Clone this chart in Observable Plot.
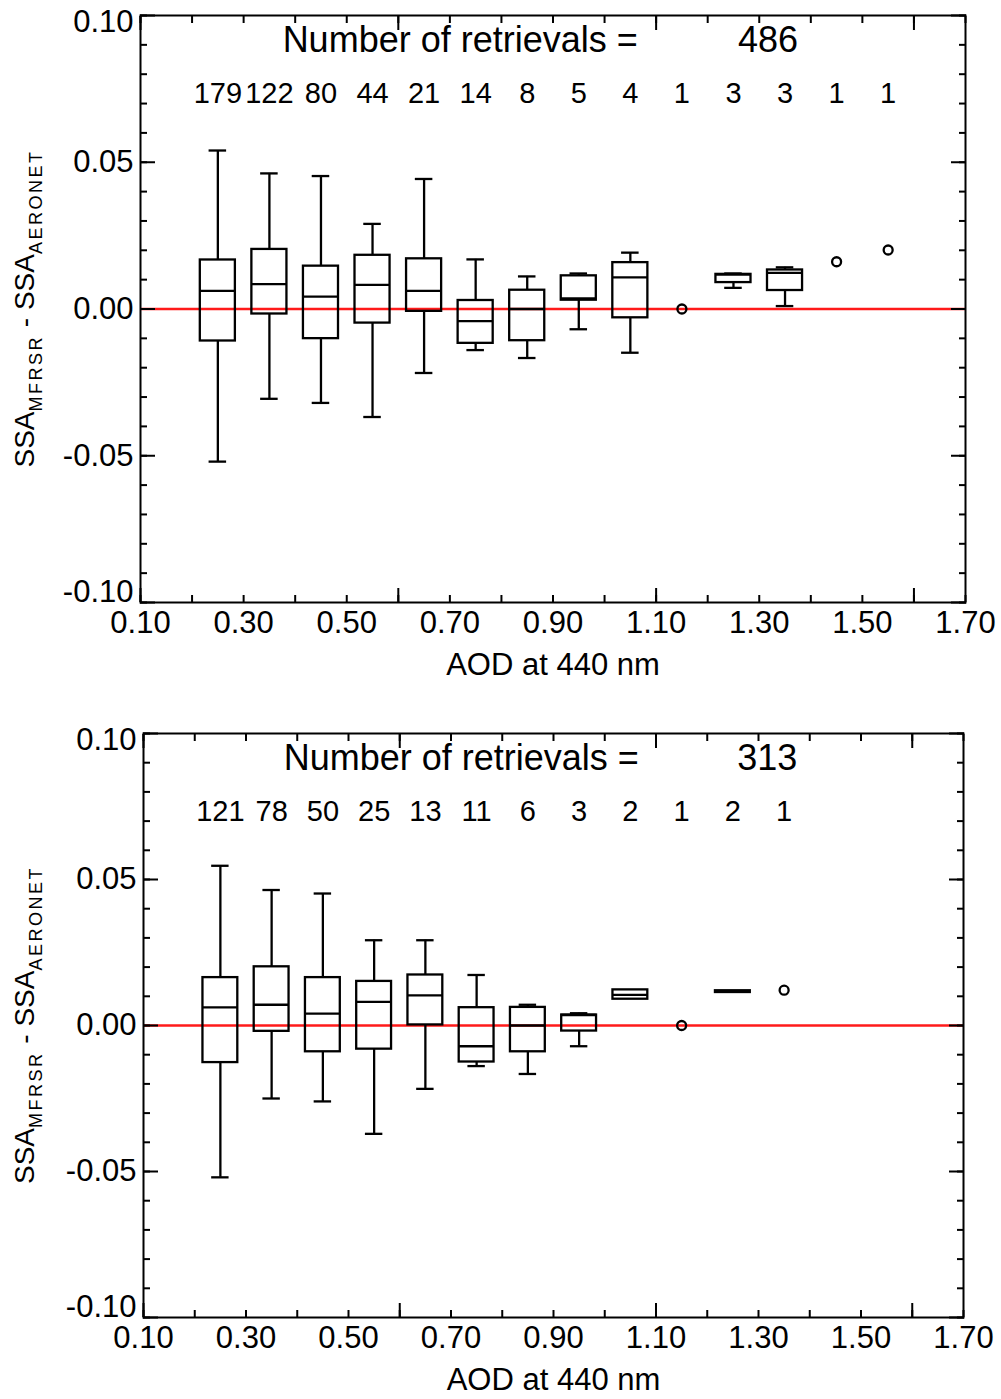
<!DOCTYPE html>
<html>
<head>
<meta charset="utf-8">
<script src="https://cdn.jsdelivr.net/npm/d3@7"></script>
<script src="https://cdn.jsdelivr.net/npm/@observablehq/plot@0.6"></script>
<style>
  body { margin: 0; background: #fff; }
  #chart svg { display: block; }
</style>
</head>
<body>
<div id="chart"></div>
<script>
// ---------- Data ----------
// Top panel
const topAod     = [0.25, 0.35, 0.45, 0.55, 0.65, 0.75, 0.85, 0.95, 1.05, 1.15, 1.25, 1.35, 1.45, 1.55];
const topCounts  = [179, 122, 80, 44, 21, 14, 8, 5, 4, 1, 3, 3, 1, 1];
const topMin     = [-0.052, -0.0306, -0.032, -0.0368, -0.0218, -0.014, -0.0167, -0.0069, -0.0149, 0.0, 0.0072, 0.001, 0.0161, 0.0201];
const topQ1      = [-0.0109, -0.0017, -0.0101, -0.0048, -0.0008, -0.0117, -0.0108, 0.003, -0.003, 0.0, 0.009, 0.0063, 0.0161, 0.0201];
const topMedian  = [0.0062, 0.0085, 0.0042, 0.0082, 0.0062, -0.0041, 0.0, 0.0036, 0.0108, 0.0, 0.0117, 0.0123, 0.0161, 0.0201];
const topQ3      = [0.0167, 0.0203, 0.0146, 0.0183, 0.0171, 0.0029, 0.0064, 0.0113, 0.0158, 0.0, 0.0118, 0.0133, 0.0161, 0.0201];
const topMax     = [0.054, 0.0462, 0.0453, 0.029, 0.0443, 0.0169, 0.0111, 0.0121, 0.0192, 0.0, 0.0121, 0.0142, 0.0161, 0.0201];
const topTotal   = "486";

// Bottom panel
const botAod     = [0.25, 0.35, 0.45, 0.55, 0.65, 0.75, 0.85, 0.95, 1.05, 1.15, 1.25, 1.35];
const botCounts  = [121, 78, 50, 25, 13, 11, 6, 3, 2, 1, 2, 1];
const botMin     = [-0.052, -0.025, -0.026, -0.0371, -0.0217, -0.0139, -0.0166, -0.0071, 0.009, 0.0, 0.0113, 0.0121];
const botQ1      = [-0.0127, -0.002, -0.009, -0.0081, 0.0002, -0.0125, -0.009, -0.0019, 0.009, 0.0, 0.0113, 0.0121];
const botMedian  = [0.0062, 0.0071, 0.0041, 0.0081, 0.0103, -0.0071, 0.0, 0.0036, 0.0105, 0.0, 0.0116, 0.0121];
const botQ3      = [0.0164, 0.0201, 0.0164, 0.0151, 0.0173, 0.0061, 0.0062, 0.0036, 0.0122, 0.0, 0.0119, 0.0121];
const botMax     = [0.0547, 0.0464, 0.0452, 0.0292, 0.0292, 0.0173, 0.0071, 0.0042, 0.0122, 0.0, 0.0119, 0.0121];
const botTotal   = "313";

// Axes / ticks / labels
const xDomain       = [0.1, 1.7];
const yDomain       = [-0.1, 0.1];
const xTickLabels   = [0.10, 0.30, 0.50, 0.70, 0.90, 1.10, 1.30, 1.50, 1.70];
const xMinorTicks   = [0.1, 0.2, 0.3, 0.4, 0.5, 0.6, 0.7, 0.8, 0.9, 1.0, 1.1, 1.2, 1.3, 1.4, 1.5, 1.6, 1.7];
const xMajorTicks   = [0.1, 0.6, 1.1, 1.6];
const yTickLabels   = [-0.10, -0.05, 0.00, 0.05, 0.10];
const yMinorTicks   = [-0.1, -0.09, -0.08, -0.07, -0.06, -0.05, -0.04, -0.03, -0.02, -0.01, 0,
                       0.01, 0.02, 0.03, 0.04, 0.05, 0.06, 0.07, 0.08, 0.09, 0.1];
const yMajorTicks   = [-0.1, -0.05, 0, 0.05, 0.1];
const titleLabel    = "Number of retrievals =";
const titleX        = [0.72, 1.317];
const xAxisTitle    = "AOD at 440 nm";

// ---------- Drawing ----------
const FONT = "'Liberation Sans', Arial, Helvetica, sans-serif";
const fmt = d => d.toFixed(2);
const boxHalf = 0.034;
const capHalf = 0.017;
const LW = 2.3;

function panel({aod, counts, mins, q1s, meds, q3s, maxs, total, height, margin}) {
  const rows = aod.map((x, i) => ({x, n: counts[i], min: mins[i], q1: q1s[i], median: meds[i], q3: q3s[i], max: maxs[i]}));
  const boxes = rows.filter(d => d.n > 1);
  const singles = rows.filter(d => d.n === 1);
  const lowCaps = boxes.filter(d => d.min < d.q1);
  const highCaps = boxes.filter(d => d.max > d.q3);
  const titles = [{x: titleX[0], label: titleLabel}, {x: titleX[1], label: total}];

  const tickStyle = {stroke: "black", strokeWidth: 2, fill: "none", label: null};
  const labStyle = {tickSize: 0, tickFormat: fmt, fontSize: 31, label: null, fill: "black"};

  const svg = Plot.plot({
    width: 1001,
    height,
    marginTop: margin.top, marginRight: margin.right, marginBottom: margin.bottom, marginLeft: margin.left,
    style: {fontFamily: FONT, color: "black", background: "white"},
    x: {domain: xDomain, axis: null},
    y: {domain: yDomain, axis: null},
    marks: [
      Plot.ruleY([0], {stroke: "#ff1a1a", strokeWidth: 2.6}),
      // ticks (inward)
      Plot.axisX(xMinorTicks, {anchor: "bottom", tickSize: -7, ...tickStyle}),
      Plot.axisX(xMajorTicks, {anchor: "bottom", tickSize: -14, ...tickStyle}),
      Plot.axisX(xMinorTicks, {anchor: "top", tickSize: -7, ...tickStyle}),
      Plot.axisX(xMajorTicks, {anchor: "top", tickSize: -14, ...tickStyle}),
      Plot.axisY(yMinorTicks, {anchor: "left", tickSize: -7, ...tickStyle}),
      Plot.axisY(yMajorTicks, {anchor: "left", tickSize: -15, ...tickStyle}),
      Plot.axisY(yMinorTicks, {anchor: "right", tickSize: -7, ...tickStyle}),
      Plot.axisY(yMajorTicks, {anchor: "right", tickSize: -15, ...tickStyle}),
      // tick labels
      Plot.axisX(xTickLabels, {anchor: "bottom", tickPadding: 8, ...labStyle}),
      Plot.axisY(yTickLabels.slice(1, 4), {anchor: "left", tickPadding: 7, ...labStyle}),
      Plot.axisY(yTickLabels.slice(4), {anchor: "left", tickPadding: 7, dy: 7, ...labStyle}),
      Plot.axisY(yTickLabels.slice(0, 1), {anchor: "left", tickPadding: 7, dy: -10, ...labStyle}),
      // whiskers
      Plot.ruleX(boxes, {x: "x", y1: "min", y2: "q1", stroke: "black", strokeWidth: LW}),
      Plot.ruleX(boxes, {x: "x", y1: "q3", y2: "max", stroke: "black", strokeWidth: LW}),
      Plot.ruleY(lowCaps, {y: "min", x1: d => d.x - capHalf, x2: d => d.x + capHalf, stroke: "black", strokeWidth: LW}),
      Plot.ruleY(highCaps, {y: "max", x1: d => d.x - capHalf, x2: d => d.x + capHalf, stroke: "black", strokeWidth: LW}),
      // boxes
      Plot.rect(boxes, {x1: d => d.x - boxHalf, x2: d => d.x + boxHalf, y1: "q1", y2: "q3", fill: "white", fillOpacity: 0, stroke: "black", strokeWidth: LW}),
      Plot.ruleY(boxes, {y: "median", x1: d => d.x - boxHalf, x2: d => d.x + boxHalf, stroke: "black", strokeWidth: LW}),
      // single retrievals
      Plot.dot(singles, {x: "x", y: "median", r: 4.5, stroke: "black", strokeWidth: LW, fill: "none"}),
      // counts
      Plot.text(rows, {x: "x", text: d => String(d.n), frameAnchor: "top", lineAnchor: "middle", dy: 78, fontSize: 29, fill: "black"}),
      // title line
      Plot.text(titles, {x: "x", text: "label", frameAnchor: "top", lineAnchor: "middle", dy: 25, fontSize: 36, fill: "black"}),
      // x axis title
      Plot.text([xAxisTitle], {frameAnchor: "bottom", lineAnchor: "middle", dy: 63, fontSize: 31, fill: "black"}),
      Plot.frame({stroke: "black", strokeWidth: 2})
    ]
  });

  // y-axis title with subscripts
  const cy = (margin.top + (height - margin.bottom)) / 2;
  const t = d3.select(svg).append("text")
    .attr("transform", `translate(34,${cy}) rotate(-90)`)
    .attr("text-anchor", "middle")
    .attr("fill", "black")
    .style("font-family", FONT)
    .style("white-space", "pre");
  t.append("tspan").attr("font-size", 28).text("SSA");
  t.append("tspan").attr("font-size", 18).attr("dy", 8).attr("letter-spacing", 2.5).text("MFRSR");
  t.append("tspan").attr("font-size", 28).attr("dy", -8).text(" - SSA");
  t.append("tspan").attr("font-size", 18).attr("dy", 8).attr("letter-spacing", 2.5).text("AERONET");
  return svg;
}

const chart = document.getElementById("chart");
chart.appendChild(panel({
  aod: topAod, counts: topCounts, mins: topMin, q1s: topQ1, meds: topMedian, q3s: topQ3, maxs: topMax,
  total: topTotal, height: 700, margin: {top: 15, right: 36, bottom: 98, left: 140}
}));
chart.appendChild(panel({
  aod: botAod, counts: botCounts, mins: botMin, q1s: botQ1, meds: botMedian, q3s: botQ3, maxs: botMax,
  total: botTotal, height: 699, margin: {top: 33, right: 38, bottom: 82, left: 143}
}));
</script>
</body>
</html>
